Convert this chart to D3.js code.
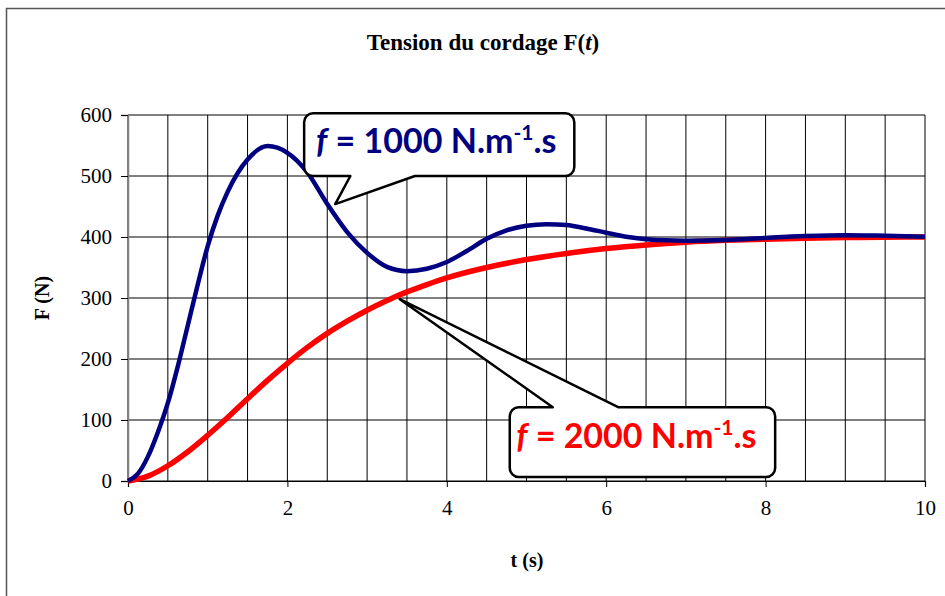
<!DOCTYPE html>
<html>
<head>
<meta charset="utf-8">
<script src="https://cdn.jsdelivr.net/npm/d3@7"></script>
<style>
  html, body { margin: 0; padding: 0; background: #fff; }
  svg { display: block; }
  .tick-label { font-family: "Liberation Serif", "Times New Roman", serif; font-size: 21px; fill: #000; }
  .axis-title { font-family: "Liberation Serif", "Times New Roman", serif; font-size: 20px; font-weight: bold; fill: #000; }
  .chart-title { font-family: "Liberation Serif", "Times New Roman", serif; font-size: 23px; font-weight: bold; fill: #000; }
  .callout-text { font-family: Lato, "Open Sans", sans-serif; font-size: 34px; font-weight: bold; }
</style>
</head>
<body>
<svg id="chart" width="945" height="596"></svg>
<script>
// time samples (s) and tension values (N)
const timeBlue = [0, 0.125, 0.25, 0.375, 0.5, 0.625, 0.75, 0.875, 1, 1.125, 1.25, 1.5, 1.75, 2, 2.25, 2.5, 2.75, 3, 3.25, 3.5, 3.75, 4, 4.25, 4.5, 4.75, 5, 5.25, 5.5, 5.75, 6, 6.25, 6.5, 6.75, 7, 7.5, 8, 8.5, 9, 9.5, 10];
const forceBlue = [0, 12, 40, 80, 128, 188, 255, 322, 385, 435, 474, 527, 549, 538, 506, 454, 408, 374, 351, 344, 348, 359, 377, 397, 411, 418.5, 421, 419.5, 414, 407, 400.5, 396.5, 394.5, 394, 395, 398.5, 401.5, 403, 402, 400.5];

const timeRed = [0, 0.25, 0.5, 0.75, 1, 1.25, 1.5, 1.75, 2, 2.25, 2.5, 2.75, 3, 3.25, 3.5, 3.75, 4, 4.5, 5, 5.5, 6, 6.5, 7, 7.5, 8, 8.5, 9, 9.5, 10];
const forceRed = [0, 8, 25, 48, 75, 104, 135, 165, 193, 219, 242, 262, 280, 296, 310, 322, 333, 350, 363, 373, 381, 387, 391.5, 394.5, 396.5, 398, 399, 399.6, 400];

const xTicks = [0, 2, 4, 6, 8, 10];
const yTicks = [0, 100, 200, 300, 400, 500, 600];
const xGrid = d3.range(0, 10.01, 0.5);

const labelBlue = "1000";
const labelRed = "2000";

const svg = d3.select("#chart");
const margin = { top: 115, right: 20, bottom: 115, left: 128 };
const width = 945 - margin.left - margin.right;
const height = 596 - margin.top - margin.bottom;

// outer frame
svg.append("rect")
  .attr("x", 6.5).attr("y", 8.5)
  .attr("width", 960).attr("height", 620)
  .attr("fill", "#fff")
  .attr("stroke", "#555")
  .attr("stroke-width", 1.5);

const title = svg.append("text")
  .attr("class", "chart-title")
  .attr("x", 483).attr("y", 50)
  .attr("text-anchor", "middle");
title.append("tspan").text("Tension du cordage F(");
title.append("tspan").attr("font-style", "italic").text("t");
title.append("tspan").text(")");

const g = svg.append("g").attr("transform", `translate(${margin.left},${margin.top})`);

const x = d3.scaleLinear().domain([0, 10]).range([0, width]);
const y = d3.scaleLinear().domain([0, 600]).range([height, 0]);

// grid
g.append("g").selectAll("line").data(xGrid).join("line")
  .attr("x1", d => x(d)).attr("x2", d => x(d))
  .attr("y1", 0).attr("y2", height)
  .attr("stroke", "#000").attr("stroke-width", 1);

g.append("g").selectAll("line").data(yTicks).join("line")
  .attr("x1", 0).attr("x2", width)
  .attr("y1", d => y(d)).attr("y2", d => y(d))
  .attr("stroke", "#000").attr("stroke-width", 1);

// axes
g.append("g")
  .attr("transform", `translate(0,${height})`)
  .call(d3.axisBottom(x).tickValues(xTicks).tickSize(6).tickPadding(13).tickFormat(d3.format("d")))
  .call(a => a.select(".domain").attr("stroke", "#000").attr("stroke-width", 1.2))
  .call(a => a.selectAll(".tick text").attr("class", "tick-label").attr("font-size", null).attr("font-family", null));

g.append("g")
  .call(d3.axisLeft(y).tickValues(yTicks).tickSize(7).tickPadding(9).tickFormat(d3.format("d")))
  .call(a => a.select(".domain").attr("stroke", "#808080").attr("stroke-width", 1.5))
  .call(a => a.selectAll(".tick text").attr("class", "tick-label").attr("font-size", null).attr("font-family", null));

svg.append("text")
  .attr("class", "axis-title")
  .attr("x", 527).attr("y", 567)
  .attr("text-anchor", "middle")
  .text("t (s)");

svg.append("text")
  .attr("class", "axis-title")
  .attr("transform", "translate(49,298) rotate(-90)")
  .attr("text-anchor", "middle")
  .text("F (N)");

// curves
const line = d3.line()
  .x(d => x(d[0]))
  .y(d => y(d[1]))
  .curve(d3.curveMonotoneX);

g.append("path")
  .datum(d3.zip(timeRed, forceRed))
  .attr("fill", "none")
  .attr("stroke", "#ff0000")
  .attr("stroke-width", 5.5)
  .attr("d", line);

g.append("path")
  .datum(d3.zip(timeBlue, forceBlue))
  .attr("fill", "none")
  .attr("stroke", "#000080")
  .attr("stroke-width", 4.5)
  .attr("d", line);

// callouts, placed in data units
function callout(box, base, tip, side) {
  const x0 = x(box[0]), x1 = x(box[1]), y0 = y(box[2]), y1 = y(box[3]);
  const r = 9;
  const b1 = x(base[0]), b2 = x(base[1]);
  const tx = x(tip[0]), ty = y(tip[1]);
  const p = d3.path();
  p.moveTo(x0 + r, y0);
  if (side === "top") {
    p.lineTo(b1, y0); p.lineTo(tx, ty); p.lineTo(b2, y0);
  }
  p.lineTo(x1 - r, y0);
  p.arcTo(x1, y0, x1, y0 + r, r);
  p.lineTo(x1, y1 - r);
  p.arcTo(x1, y1, x1 - r, y1, r);
  if (side === "bottom") {
    p.lineTo(b2, y1); p.lineTo(tx, ty); p.lineTo(b1, y1);
  }
  p.lineTo(x0 + r, y1);
  p.arcTo(x0, y1, x0, y1 - r, r);
  p.lineTo(x0, y0 + r);
  p.arcTo(x0, y0, x0 + r, y0, r);
  p.closePath();
  g.append("path")
    .attr("d", p.toString())
    .attr("fill", "#fff")
    .attr("stroke", "#000")
    .attr("stroke-width", 2.5)
    .attr("stroke-linejoin", "round");
}

function calloutText(tx, ty, value, color) {
  const t = g.append("text")
    .attr("class", "callout-text")
    .attr("x", x(tx)).attr("y", y(ty))
    .attr("fill", color);
  t.append("tspan").attr("font-style", "italic").text("f");
  t.append("tspan").text(` = ${value} N.m`);
  t.append("tspan").attr("font-size", "21px").attr("dy", -13).text("-1");
  t.append("tspan").attr("dy", 13).text(".s");
}

callout([2.21, 5.6, 603, 500], [2.79, 3.6], [2.6, 454], "bottom");
calloutText(2.36, 537, labelBlue, "#000080");

callout([4.79, 8.12, 121, 6.5], [5.33, 6.15], [3.41, 298], "top");
calloutText(4.87, 54, labelRed, "#ff0000");
</script>
</body>
</html>
